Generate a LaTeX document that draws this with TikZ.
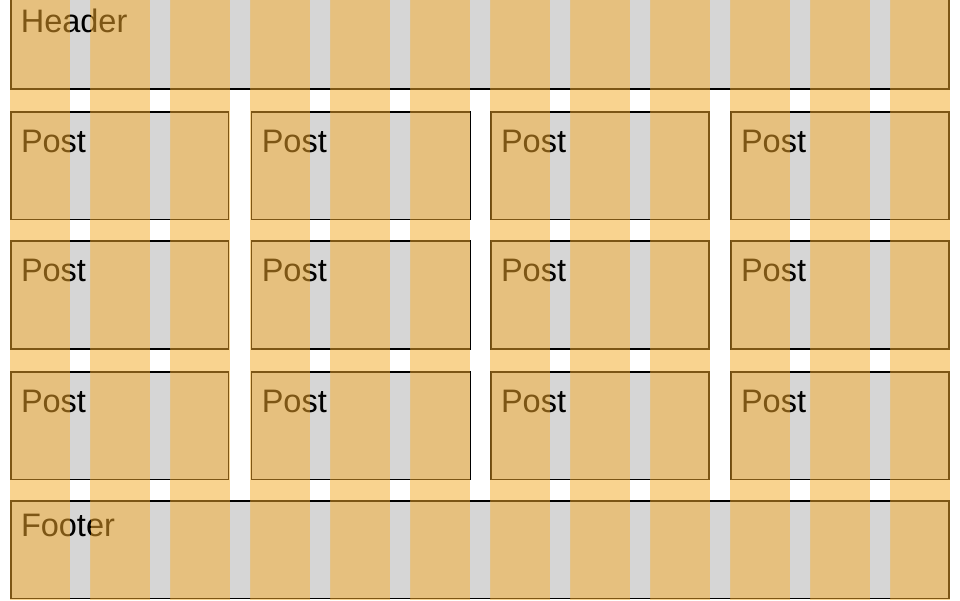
\documentclass[tikz,border=0pt]{standalone}
\usepackage{fontspec}
\setmainfont{Liberation Sans}
\definecolor{colbg}{HTML}{F9D38F}
\definecolor{boxfill}{HTML}{E6C07E}
\definecolor{gutfill}{HTML}{D6D6D6}
\definecolor{brd}{HTML}{7D5615}
\tikzset{
  area/.style={line width=1.6pt},
  lbl/.style={anchor=base west, inner sep=0pt, font=\fontsize{32.5}{38}\selectfont}
}
\newcommand\gridlayer[4]{%
  % #1 fill, #2 border, #3 text colour, #4 name prefix
  \draw[area, fill=#1, draw=#2] (10.8,-10) rectangle (949.2,88.8);
  \node[lbl, text=#3] (#4-header) at (20.6,32.3) {Header};
  \foreach \r/\ya/\yb in {1/111.8/219.6, 2/240.8/348.8, 3/371.8/479.6}{
    \foreach \c/\xa/\xb in {1/10.8/228.6, 2/251.6/470.4, 3/490.8/709.2, 4/730.8/949.2}{
      \draw[area, fill=#1, draw=#2] (\xa,\ya) rectangle (\xb,\yb);
      \node[lbl, text=#3] (#4-p\r\c) at ({\xa+10},{\ya+40.5}) {Post};
    }
  }
  \draw[area, fill=#1, draw=#2] (10.8,500.8) rectangle (949.2,598.4);
  \node[lbl, text=#3] (#4-footer) at (20.8,536.7) {Footer};
}
\begin{document}
\begin{tikzpicture}[x=1pt,y=-1pt]
\useasboundingbox (0,0) rectangle (960,600);
\clip (0,0) rectangle (960,600);
\fill[white] (0,0) rectangle (960,600);
\foreach \i in {0,...,11}{
  \fill[colbg] ({10+80*\i},0) rectangle ({70+80*\i},600);
}
\gridlayer{boxfill}{brd}{brd}{n}
\begin{scope}
  \clip (70,0) rectangle (90,600) (150,0) rectangle (170,600)
        (230,0) rectangle (250,600) (310,0) rectangle (330,600)
        (390,0) rectangle (410,600) (470,0) rectangle (490,600)
        (550,0) rectangle (570,600) (630,0) rectangle (650,600)
        (710,0) rectangle (730,600) (790,0) rectangle (810,600)
        (870,0) rectangle (890,600);
  \gridlayer{gutfill}{black}{black}{g}
\end{scope}
\end{tikzpicture}
\end{document}
